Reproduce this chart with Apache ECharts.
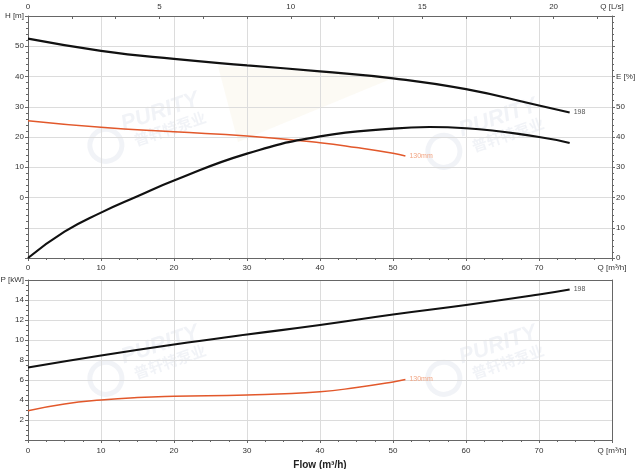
<!DOCTYPE html>
<html><head><meta charset="utf-8">
<script src="https://cdn.jsdelivr.net/npm/echarts@6/dist/echarts.min.js"></script>
<style>html,body{margin:0;padding:0;background:#fff}#c{width:640px;height:469px}</style>
</head><body><div id="c"></div>
<script>
// Flow points (m³/h)
const qH198 = [0, 10, 20, 30, 40, 50, 60, 70, 74.2];
const h198 = [52.5, 48.5, 45.8, 43.7, 41.7, 39.4, 35.8, 30.4, 28.1];
const qH130 = [0, 10, 20, 30, 40, 45, 50, 51.7];
const h130 = [25.4, 23.2, 21.7, 20.3, 18.1, 16.5, 14.6, 13.7];
const qE198 = [0, 5, 10, 15, 20, 30, 40, 50, 55, 60, 70, 74.2];
const e198 = [0, 8.7, 15.0, 20.4, 25.6, 34.5, 40.2, 42.8, 43.3, 42.9, 40.0, 38.0];
const qP198 = [0, 10, 20, 30, 40, 50, 60, 70, 74.2];
const p198 = [7.25, 8.45, 9.55, 10.55, 11.5, 12.55, 13.5, 14.55, 15.05];
const qP130 = [0, 5, 10, 15, 20, 30, 40, 45, 50, 51.7];
const p130 = [2.93, 3.6, 4.0, 4.25, 4.37, 4.5, 4.83, 5.25, 5.8, 6.05];
const xTicksM3h = [0, 10, 20, 30, 40, 50, 60, 70];
const xTicksLs = [0, 5, 10, 15, 20];
const label198 = '198';
const label130 = '130mm';

const pairs = (xs, ys) => xs.map((x, i) => [x, ys[i]]);

const BLACK = '#111', ORANGE = '#e2582b';
const axisCol = '#666', gridCol = '#dcdcdc', txt = { fontSize: 8, color: '#333', fontFamily: 'Liberation Sans' };
const WM = 'rgba(170,185,210,0.17)';

function wm(x, y) {
  return {
    type: 'group', x: x, y: y, rotation: 0.33, z: 0, silent: true,
    children: [
      { type: 'text', x: 0, y: 0, style: { text: 'PURITY', font: 'bold italic 22px "Liberation Sans"', fill: WM, textAlign: 'center', textVerticalAlign: 'middle' } },
      { type: 'text', x: 4, y: 19, style: { text: '普轩特泵业', font: 'bold 15px "Noto Sans CJK SC"', fill: WM, textAlign: 'center', textVerticalAlign: 'middle' } },
      { type: 'circle', shape: { cx: -62, cy: 14, r: 16 }, style: { fill: 'none', stroke: WM, lineWidth: 5 } }
    ]
  };
}

const gridBase = { left: 28, right: 28, containLabel: false, outerBoundsMode: 'none' };
const chart = echarts.init(document.getElementById('c'), null, { renderer: 'canvas' });
const line = (xi, yi, xs, ys, lbl, col, lblCol, w) => ({
  type: 'line', xAxisIndex: xi, yAxisIndex: yi, smooth: 0.5, showSymbol: false, z: 3,
  lineStyle: { color: col, width: w }, itemStyle: { color: col },
  endLabel: lbl ? { show: true, formatter: lbl, distance: 4, fontSize: 7, color: lblCol, fontFamily: 'Liberation Sans' } : { show: false },
  data: pairs(xs, ys)
});
chart.setOption({
  animation: false,
  backgroundColor: '#fff',
  grid: [
    Object.assign({ top: 16, height: 242 }, gridBase),
    Object.assign({ top: 280, height: 160 }, gridBase)
  ],
  graphic: [
    { type: 'polygon', z: -1, silent: true, shape: { points: [[218, 66], [398, 76], [238, 142]] }, style: { fill: 'rgba(245,236,210,0.25)' } },
    wm(160, 112), wm(498, 118), wm(160, 345), wm(498, 345)
  ],
  xAxis: [
    { gridIndex: 0, type: 'value', min: 0, max: 80, interval: 10, position: 'bottom',
      axisLine: { show: true, onZero: false, lineStyle: { color: axisCol } },
      axisTick: { show: true, length: 3, lineStyle: { color: axisCol } },
      minorTick: { show: true, splitNumber: 4, length: 2, lineStyle: { color: axisCol } },
      axisLabel: Object.assign({ margin: 6, formatter: v => v === 80 ? 'Q [m³/h]' : (xTicksM3h.includes(v) ? String(v) : '') }, txt),
      splitLine: { show: true, lineStyle: { color: gridCol } } },
    { gridIndex: 0, type: 'value', min: 0, max: 80 / 3.6, interval: 5, position: 'top',
      axisLine: { show: true, onZero: false, lineStyle: { color: axisCol } },
      axisTick: { show: true, length: 3, inside: true, lineStyle: { color: axisCol } },
      minorTick: { show: true, splitNumber: 3, length: 3, lineStyle: { color: axisCol } },
      axisLabel: Object.assign({ margin: 5, formatter: v => v > 21 ? 'Q [L/s]' : (xTicksLs.includes(v) ? String(v) : '') }, txt),
      splitLine: { show: false } },
    { gridIndex: 1, type: 'value', min: 0, max: 80, interval: 10, position: 'bottom',
      name: 'Flow (m³/h)', nameLocation: 'middle', nameGap: 20,
      nameTextStyle: { fontSize: 10, fontWeight: 'bold', color: '#222', fontFamily: 'Liberation Sans' },
      axisLine: { show: true, onZero: false, lineStyle: { color: axisCol } },
      axisTick: { show: true, length: 3, lineStyle: { color: axisCol } },
      minorTick: { show: true, splitNumber: 4, length: 2, lineStyle: { color: axisCol } },
      axisLabel: Object.assign({ margin: 7, formatter: v => v === 80 ? 'Q [m³/h]' : (xTicksM3h.includes(v) ? String(v) : '') }, txt),
      splitLine: { show: true, lineStyle: { color: gridCol } } },
    { gridIndex: 1, type: 'value', min: 0, max: 80, position: 'top',
      axisLine: { show: true, onZero: false, lineStyle: { color: axisCol } },
      axisTick: { show: false }, axisLabel: { show: false }, splitLine: { show: false } }
  ],
  yAxis: [
    { gridIndex: 0, type: 'value', min: -20, max: 60, interval: 10, position: 'left',
      axisLine: { show: true, onZero: false, lineStyle: { color: axisCol } },
      axisTick: { show: true, length: 3, lineStyle: { color: axisCol } },
      minorTick: { show: true, splitNumber: 5, length: 2, lineStyle: { color: axisCol } },
      axisLabel: Object.assign({ margin: 4, formatter: v => v === 60 ? 'H [m]' : (v < 0 ? '' : String(v)) }, txt),
      splitLine: { show: true, lineStyle: { color: gridCol } } },
    { gridIndex: 0, type: 'value', min: 0, max: 80, interval: 10, position: 'right',
      axisLine: { show: true, onZero: false, lineStyle: { color: axisCol } },
      axisTick: { show: true, length: 3, lineStyle: { color: axisCol } },
      minorTick: { show: true, splitNumber: 5, length: 2, lineStyle: { color: axisCol } },
      axisLabel: Object.assign({ margin: 4, formatter: v => v === 60 ? 'E [%]' : (v > 60 ? '' : String(v)) }, txt),
      splitLine: { show: false } },
    { gridIndex: 1, type: 'value', min: 0, max: 16, interval: 2, position: 'left',
      axisLine: { show: true, onZero: false, lineStyle: { color: axisCol } },
      axisTick: { show: true, length: 3, lineStyle: { color: axisCol } },
      minorTick: { show: true, splitNumber: 4, length: 2, lineStyle: { color: axisCol } },
      axisLabel: Object.assign({ margin: 4, formatter: v => v === 16 ? 'P [kW]' : (v === 0 ? '' : String(v)) }, txt),
      splitLine: { show: true, lineStyle: { color: gridCol } } },
    { gridIndex: 1, type: 'value', min: 0, max: 16, position: 'right',
      axisLine: { show: true, onZero: false, lineStyle: { color: axisCol } },
      axisTick: { show: false }, axisLabel: { show: false }, splitLine: { show: false } }
  ],
  series: [
    line(0, 0, qH198, h198, label198, BLACK, '#555', 2.2),
    line(0, 0, qH130, h130, label130, ORANGE, '#f2a583', 1.5),
    line(0, 1, qE198, e198, null, BLACK, '#555', 2.2),
    line(2, 2, qP198, p198, label198, BLACK, '#555', 2.2),
    line(2, 2, qP130, p130, label130, ORANGE, '#f2a583', 1.5)
  ]
});
</script>
</body></html>
